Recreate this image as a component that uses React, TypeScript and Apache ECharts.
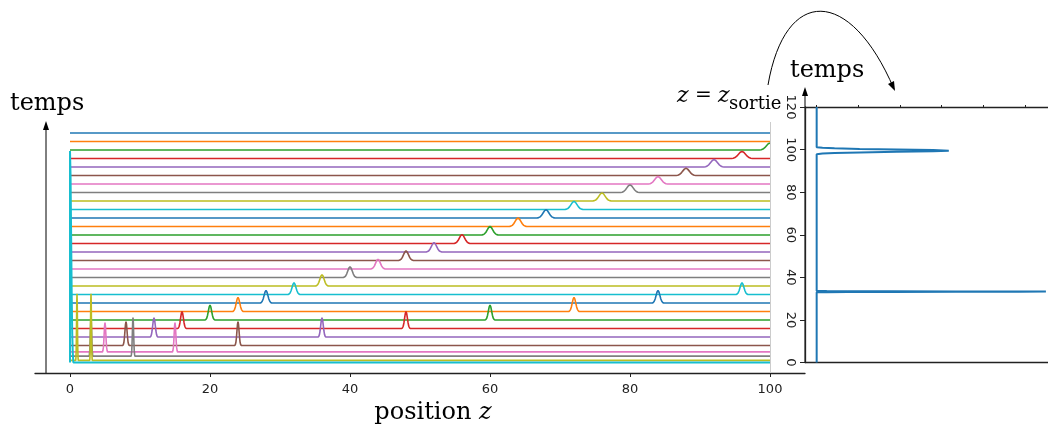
import React, { useEffect, useRef } from "react";
import * as echarts from "echarts";

// Rows of the waterfall (time of each trace), top to bottom, in plotting order
const rowTimes = [108, 104, 100, 96, 92, 88, 84, 80, 76, 72, 68, 64, 60, 56, 52, 48, 44, 40, 36, 32, 28, 24, 20, 16, 12, 8, 5, 3, 1, 0];
// Position of the slow pulse on each row (null = outside 0..100)
const slowPeakZ = [null, null, 100, 96, 92, 88, 84, 80, 76, 72, 68, 64, 60, 56, 52, 48, 44, 40, 36, 32, 28, 24, 20, 16, 12, 8, 5, 3, 1, 0];
// Position of the fast pulse on each row (null = absent / outside)
const fastPeakZ = [null, null, null, null, null, null, null, null, null, null, null, null, null, null, null, null, null, null, null, 96, 84, 72, 60, 48, 36, 24, 15, 9, 3, null];
// Pulse heights on each row (in time units)
const peakHeights = [0, 0, 3.3, 3.3, 3.5, 3.4, 3.5, 3.6, 3.8, 3.8, 3.9, 4.0, 4.0, 4.2, 4.4, 4.5, 4.6, 5.0, 5.3, 5.5, 5.9, 6.6, 7.0, 8.0, 9.1, 11.2, 13.8, 18.2, 31.3, 99.5];
// Pulse widths on each row (in z units)
const peakWidths = [0, 0, 0.5, 0.5, 0.48, 0.47, 0.46, 0.45, 0.44, 0.43, 0.42, 0.41, 0.39, 0.38, 0.37, 0.35, 0.34, 0.32, 0.3, 0.28, 0.27, 0.25, 0.23, 0.2, 0.18, 0.15, 0.12, 0.09, 0.06, 0.16];
// Pulse profile: [offset in widths, relative height]
const pulseProfile = [[-3, 0], [-2.5, 0.044], [-2, 0.135], [-1.5, 0.325], [-1, 0.607], [-0.5, 0.882], [0, 1], [0.5, 0.882], [1, 0.607], [1.5, 0.325], [2, 0.135], [2.5, 0.044], [3, 0]];

// Right panel: signal at z = z_sortie versus time
const exitTimes = [33.3, 99.5];
const exitAmplitudes = [5.5, 3.17];
const exitWidths = [0.1, 0.55];
const exitTicks = [0, 1, 2, 3, 4, 5];

const zTicks = [0, 20, 40, 60, 80, 100];
const palette = ["#1f77b4", "#ff7f0e", "#2ca02c", "#d62728", "#9467bd", "#8c564b", "#e377c2", "#7f7f7f", "#bcbd22", "#17becf"];

function rowPoints(i: number) {
  const t = rowTimes[i];
  const centers: number[] = [];
  if (slowPeakZ[i] !== null) centers.push(slowPeakZ[i] as number);
  if (fastPeakZ[i] !== null) centers.push(fastPeakZ[i] as number);
  const pts: number[][] = [];
  centers.forEach((c) => {
    pulseProfile.forEach(([o, r]) => {
      const z = c + o * peakWidths[i];
      if (z < 0 || z > 100) return;
      pts.push([z, t + r * peakHeights[i]]);
    });
  });
  pts.sort((a, b) => a[0] - b[0]);
  if (pts.length === 0 || pts[0][0] > 0 || pts[0][1] !== t) pts.unshift([0, t]);
  if (pts[pts.length - 1][0] < 100) pts.push([100, t]);
  return pts;
}

function exitPoints() {
  const pts: number[][] = [];
  exitTimes.forEach((tc, k) => {
    pulseProfile.forEach(([o, r]) => {
      pts.push([r * exitAmplitudes[k], tc + o * exitWidths[k]]);
    });
  });
  pts.sort((a, b) => a[1] - b[1]);
  pts.unshift([0, 0]);
  pts.push([0, 120]);
  return pts;
}

const AX = "#222";

export default function App() {
  const ref = useRef<HTMLDivElement>(null);
  useEffect(() => {
    if (!ref.current) return;
    const chart = echarts.init(ref.current, undefined, { renderer: "svg" });
    const series: any[] = rowTimes.map((t, i) => ({
      type: "line",
      xAxisIndex: 0,
      yAxisIndex: 0,
      data: rowPoints(i),
      showSymbol: false,
      symbol: "none",
      silent: true,
      lineStyle: { width: t === 0 ? 2 : 1.6, color: palette[i % 10] },
      itemStyle: { color: palette[i % 10] },
      ...(i === 0
        ? {
            markLine: {
              silent: true,
              symbol: ["none", "none"],
              label: { show: false },
              lineStyle: { color: "#cccccc", width: 1, type: "solid" },
              data: [{ xAxis: 100 }],
            },
          }
        : {}),
    }));
    series.push({
      type: "line",
      xAxisIndex: 1,
      yAxisIndex: 1,
      data: exitPoints(),
      showSymbol: false,
      symbol: "none",
      silent: true,
      lineStyle: { width: 2, color: "#1f77b4" },
    });

    const serif = "DejaVu Serif";
    chart.setOption({
      animation: false,
      grid: [
        { left: 35, top: 122, width: 770, height: 251 },
        { left: 805, top: 107, width: 243, height: 255.5 },
      ],
      xAxis: [
        {
          type: "value",
          gridIndex: 0,
          min: -5,
          max: 105,
          axisLine: { show: true, onZero: false, lineStyle: { color: AX, width: 1.3 } },
          axisTick: { show: true, customValues: zTicks, length: 4, lineStyle: { color: AX } },
          axisLabel: { customValues: zTicks, fontFamily: "DejaVu Sans", fontSize: 13, color: AX, margin: 9 },
          splitLine: { show: false },
        },
        {
          type: "value",
          gridIndex: 1,
          position: "top",
          min: -0.28,
          max: 5.55,
          axisLine: { show: true, onZero: false, lineStyle: { color: AX, width: 1.3 } },
          axisTick: { show: true, customValues: exitTicks, length: 2, lineStyle: { color: AX } },
          axisLabel: { show: false },
          splitLine: { show: false },
        },
        {
          type: "value",
          gridIndex: 1,
          position: "bottom",
          min: -0.28,
          max: 5.55,
          axisLine: { show: true, onZero: false, lineStyle: { color: AX, width: 1.3 } },
          axisTick: { show: false },
          axisLabel: { show: false },
          splitLine: { show: false },
        },
      ],
      yAxis: [
        { type: "value", gridIndex: 0, min: -4.94, max: 113.18, show: false },
        {
          type: "value",
          gridIndex: 1,
          min: 0,
          max: 120,
          interval: 20,
          axisLine: { show: true, onZero: false, lineStyle: { color: AX, width: 1.3 } },
          axisTick: { show: true, length: 5, lineStyle: { color: AX } },
          axisLabel: { rotate: -90, fontFamily: "DejaVu Sans", fontSize: 13, color: AX, margin: 7 },
          splitLine: { show: false },
        },
      ],
      series,
      graphic: [
        { type: "line", shape: { x1: 46, y1: 374, x2: 46, y2: 126 }, style: { stroke: "#000", lineWidth: 1 } },
        { type: "polygon", shape: { points: [[43, 130], [46, 121], [49, 130]] }, style: { fill: "#000" } },
        { type: "line", shape: { x1: 805, y1: 363, x2: 805, y2: 92 }, style: { stroke: "#000", lineWidth: 1 } },
        { type: "polygon", shape: { points: [[802, 96], [805, 87], [808, 96]] }, style: { fill: "#000" } },
        {
          type: "bezierCurve",
          shape: { x1: 768, y1: 85, cpx1: 785, cpy1: -14, cpx2: 850, cpy2: -14, x2: 894, y2: 89 },
          style: { stroke: "#000", lineWidth: 1, fill: "none" },
        },
        { type: "polygon", shape: { points: [[895, 91], [894, 81], [888, 84]] }, style: { fill: "#000" } },
        {
          type: "text",
          x: 10,
          y: 102,
          style: { text: "temps", font: `24px '${serif}'`, fill: "#000", align: "left", verticalAlign: "middle" },
        },
        {
          type: "text",
          x: 790,
          y: 69,
          style: { text: "temps", font: `24px '${serif}'`, fill: "#000", align: "left", verticalAlign: "middle" },
        },
        {
          type: "text",
          x: 433,
          y: 411,
          style: {
            text: "{n|position }{i|z}",
            align: "center",
            verticalAlign: "middle",
            fill: "#000",
            rich: {
              n: { fontFamily: serif, fontSize: 24, fill: "#000" },
              i: { fontFamily: serif, fontSize: 24, fontStyle: "italic", fill: "#000" },
            },
          },
        },
        {
          type: "text",
          x: 677,
          y: 94,
          style: {
            text: "{i|z}{n| = }{i|z}",
            align: "left",
            verticalAlign: "middle",
            fill: "#000",
            rich: {
              n: { fontFamily: serif, fontSize: 20, fill: "#000" },
              i: { fontFamily: serif, fontSize: 22, fontStyle: "italic", fill: "#000" },
            },
          },
        },
        {
          type: "text",
          x: 729,
          y: 102,
          style: { text: "sortie", font: `18px '${serif}'`, fill: "#000", align: "left", verticalAlign: "middle" },
        },
      ],
    });
    return () => chart.dispose();
  }, []);
  return <div ref={ref} style={{ position: "fixed", left: 0, top: 0, width: 1048, height: 425 }} />;
}
